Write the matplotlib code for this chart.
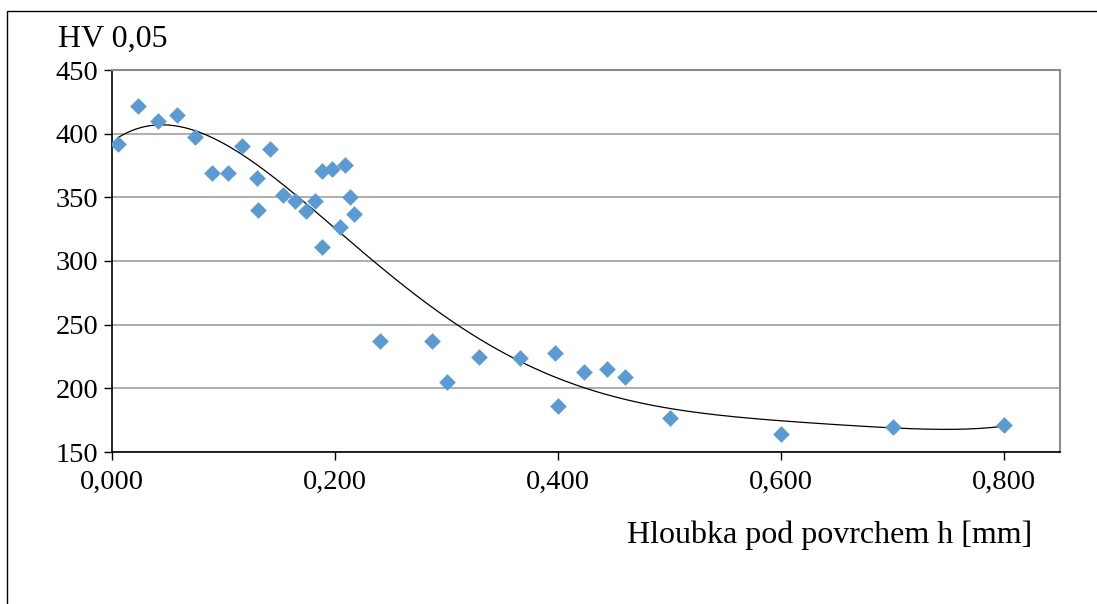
import matplotlib.pyplot as plt
from matplotlib.patches import Rectangle
from matplotlib.ticker import FuncFormatter
import numpy as np

# hloubka pod povrchem [mm] a tvrdost HV 0,05
hloubka = [0.005, 0.023, 0.041, 0.058, 0.074, 0.090, 0.104, 0.117, 0.130, 0.131,
           0.142, 0.153, 0.164, 0.174, 0.182, 0.188, 0.188, 0.197, 0.204, 0.209,
           0.213, 0.217, 0.240, 0.287, 0.300, 0.329, 0.366, 0.397, 0.400, 0.423,
           0.444, 0.460, 0.500, 0.600, 0.700, 0.800]
tvrdost = [392, 422, 410, 415, 397, 369, 369, 390, 365, 340,
           388, 352, 347, 339, 347, 371, 311, 372, 327, 375,
           350, 337, 237, 237, 205, 225, 224, 228, 186, 213,
           215, 209, 177, 164, 170, 171]
x_ticks = [0.0, 0.2, 0.4, 0.6, 0.8]
y_ticks = [150, 200, 250, 300, 350, 400, 450]

plt.rcParams['font.family'] = ['Liberation Serif', 'DejaVu Serif']

fig = plt.figure(figsize=(10.97, 6.04), dpi=100)
ax = fig.add_axes([112/1097, 1-452/604, (1060-112)/1097, (452-70)/604])

# polynomicky trend 5. radu (jako v Excelu)
koef = np.polyfit(hloubka, tvrdost, 5)
xx = np.linspace(min(hloubka), max(hloubka), 300)
ax.plot(xx, np.polyval(koef, xx), color='black', lw=0.9, zorder=2)

ax.scatter(hloubka, tvrdost, marker='D', s=72, color='#5B9BD5', lw=0, zorder=3)

ax.set_xlim(0, 0.85)
ax.set_ylim(150, 450)
ax.set_xticks(x_ticks)
ax.set_yticks(y_ticks)
ax.xaxis.set_major_formatter(FuncFormatter(lambda v, p: ('%.3f' % v).replace('.', ',')))
ax.tick_params(labelsize=20.5, length=6, width=1, color='black', direction='out')
ax.tick_params(axis='x', pad=7)
ax.tick_params(axis='y', pad=4)
ax.yaxis.grid(True, color='#a0a0a0', lw=1.2)
ax.set_axisbelow(True)
for s in ['top', 'right']:
    ax.spines[s].set_color('#8c8c8c')
    ax.spines[s].set_linewidth(1.5)
for s in ['left', 'bottom']:
    ax.spines[s].set_color('black')
    ax.spines[s].set_linewidth(1.2)

fig.text(58/1097, 1-47/604, 'HV 0,05', fontsize=23, ha='left', va='baseline')
fig.text(1032/1097, 1-543/604, 'Hloubka pod povrchem h [mm]', fontsize=23,
         ha='right', va='baseline')

# ramecek grafu
fig.patches.append(Rectangle((7/1097, -0.1), 1.2, 1 - 11/604 + 0.1,
                             transform=fig.transFigure, fill=False,
                             ec='black', lw=1))

fig.savefig('out.png', dpi=100)
